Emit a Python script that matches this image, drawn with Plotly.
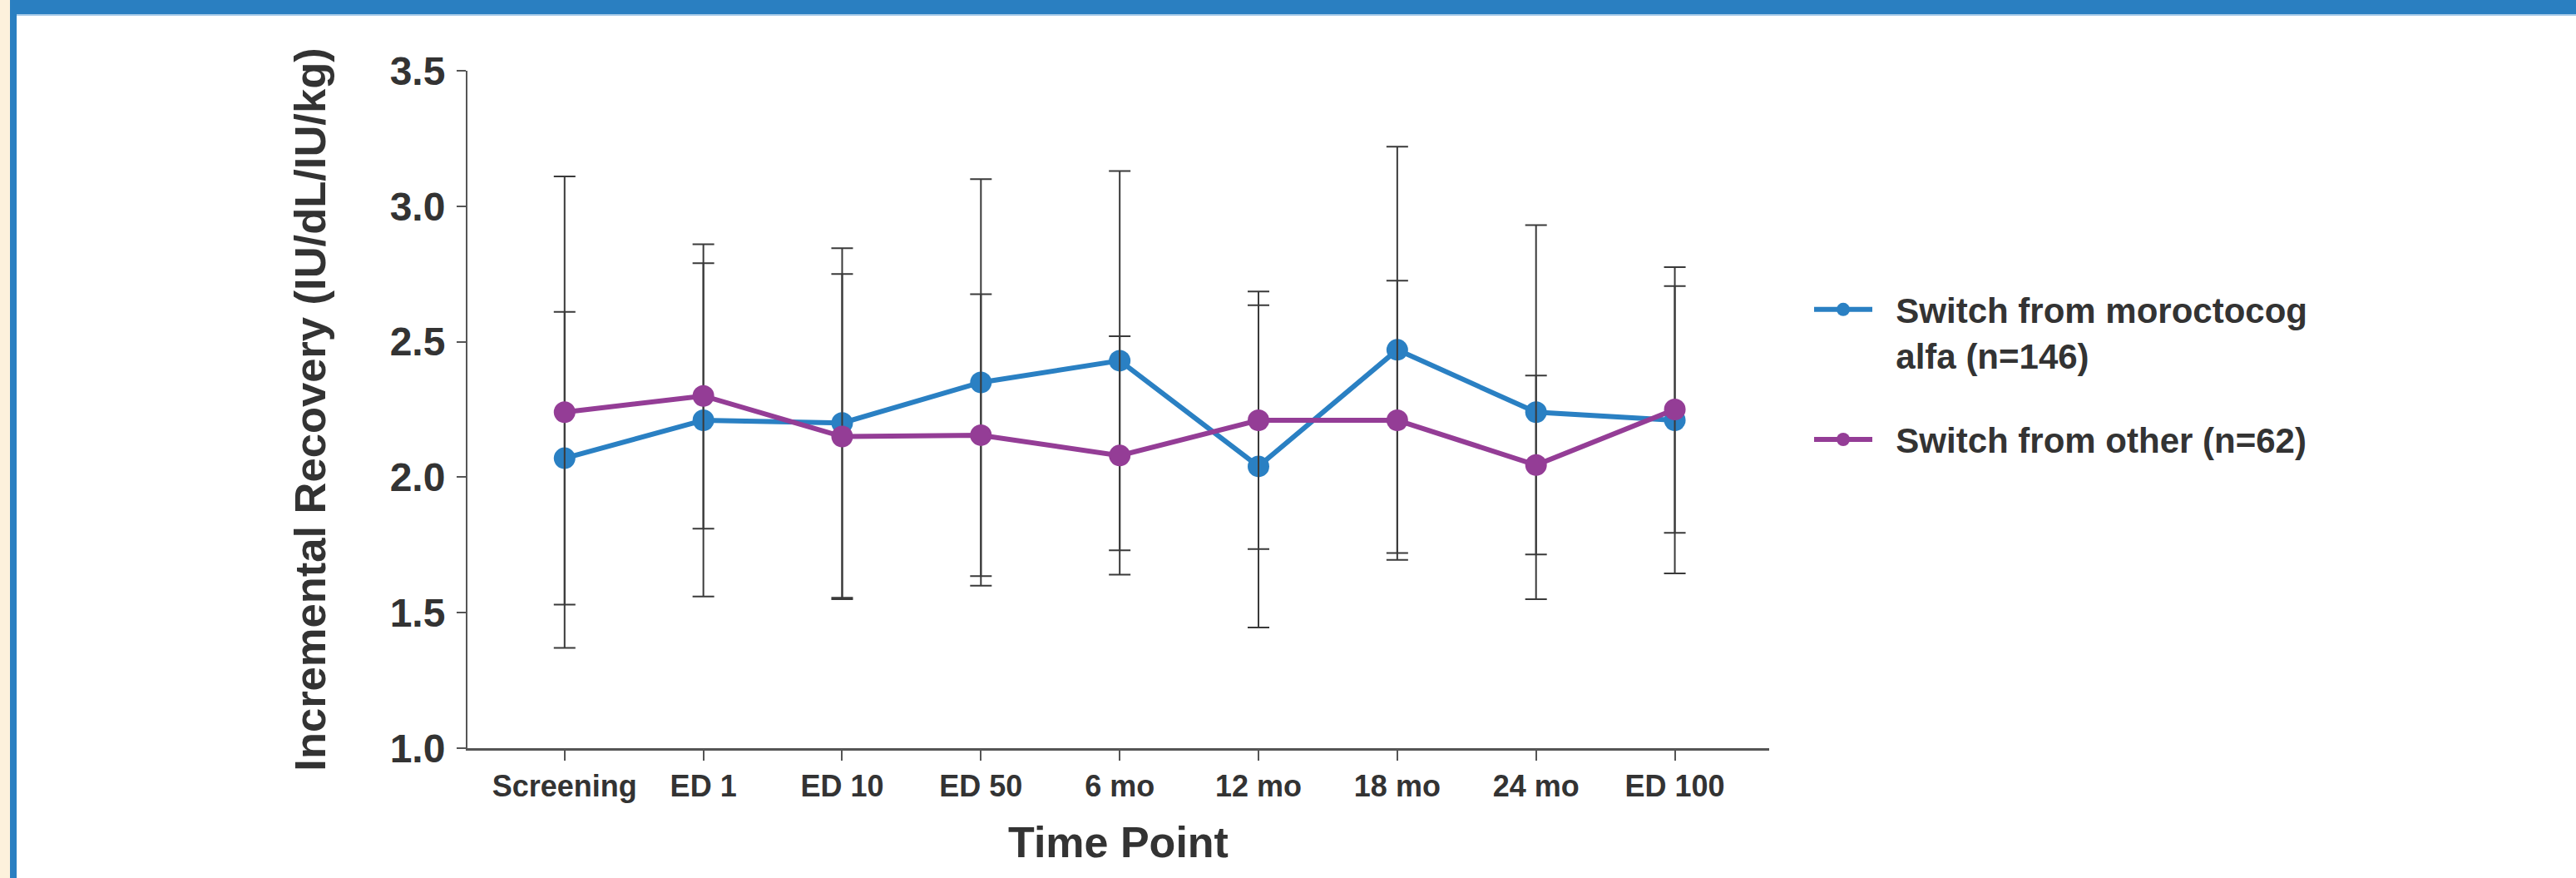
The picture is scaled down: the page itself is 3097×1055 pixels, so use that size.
import plotly.graph_objects as go

categories = ["Screening", "ED 1", "ED 10", "ED 50", "6 mo", "12 mo", "18 mo", "24 mo", "ED 100"]
moro_mean = [2.07, 2.21, 2.20, 2.35, 2.43, 2.04, 2.47, 2.24, 2.21]
moro_sd = [0.54, 0.65, 0.645, 0.75, 0.70, 0.595, 0.75, 0.69, 0.565]
other_mean = [2.24, 2.30, 2.15, 2.155, 2.08, 2.21, 2.21, 2.045, 2.25]
other_sd = [0.87, 0.49, 0.60, 0.52, 0.44, 0.475, 0.515, 0.33, 0.455]
y_ticks = [1.0, 1.5, 2.0, 2.5, 3.0, 3.5]

W, H = 3097, 1055
L, R, T, B = 562, 2127, 85, 899

def px(x):
    return (x - L) / (R - L)

def py(y):
    return (B - y) / (B - T)

BLUE = "#2a80c3"
PURPLE = "#943d96"
ERR = "#3a3a3a"
TXT = "#333333"
FONT = "Liberation Sans, Arial, sans-serif"
NB = "\u00a0\u00a0"

xs = list(range(len(categories)))

fig = go.Figure()
fig.add_trace(go.Scatter(
    x=xs, y=moro_mean, mode="lines+markers",
    name=NB + "Switch from moroctocog<br>" + NB + "alfa (n=146)",
    legendgroup="a",
    line=dict(color=BLUE, width=6),
    marker=dict(color=BLUE, size=26),
    error_y=dict(type="data", array=moro_sd, color=ERR, thickness=2, width=13),
))
fig.add_trace(go.Scatter(
    x=xs, y=other_mean, mode="lines+markers",
    name=NB + "Switch from other (n=62)",
    legendgroup="b",
    line=dict(color=PURPLE, width=6),
    marker=dict(color=PURPLE, size=26),
    error_y=dict(type="data", array=other_sd, color=ERR, thickness=2, width=13),
))

shapes = [
    dict(type="rect", xref="paper", yref="paper", x0=px(0), x1=px(12), y0=py(H), y1=py(0),
         fillcolor="#fdf1dc", line=dict(width=0), layer="below"),
    dict(type="rect", xref="paper", yref="paper", x0=px(12), x1=px(20), y0=py(H), y1=py(0),
         fillcolor="#2a7fc1", line=dict(width=0), layer="below"),
    dict(type="rect", xref="paper", yref="paper", x0=px(12), x1=px(W), y0=py(17), y1=py(0),
         fillcolor="#2a7fc1", line=dict(width=0), layer="below"),
    dict(type="rect", xref="paper", yref="paper", x0=px(20), x1=px(W), y0=py(19), y1=py(17),
         fillcolor="#a9cbe8", line=dict(width=0), layer="below"),
]

fig.update_layout(
    width=W, height=H,
    margin=dict(l=L, r=W - R, t=T, b=H - B, pad=0),
    paper_bgcolor="white", plot_bgcolor="white",
    showlegend=True,
    shapes=shapes,
    legend=dict(
        x=px(2176), y=py(338), xanchor="left", yanchor="top",
        font=dict(family=FONT, size=42, color=TXT, weight="bold"),
        valign="top", traceorder="grouped", tracegroupgap=44,
        itemwidth=70, bgcolor="rgba(0,0,0,0)",
    ),
    xaxis=dict(
        range=[-0.70, 8.68], tickmode="array", tickvals=xs, ticktext=categories,
        showline=True, linecolor="#555555", linewidth=3, showgrid=False, zeroline=False,
        ticks="outside", ticklen=12, tickwidth=2, tickcolor="#555555",
        tickfont=dict(family=FONT, size=36, color=TXT, weight="bold"),
        title=dict(text="Time Point", font=dict(family=FONT, size=52, color=TXT, weight="bold"),
                   standoff=30),
    ),
    yaxis=dict(
        range=[1.0, 3.5], tickmode="array", tickvals=y_ticks,
        ticktext=[f"{v:.1f}" for v in y_ticks],
        showline=True, linecolor="#555555", linewidth=2, showgrid=False, zeroline=False,
        ticks="outside", ticklen=11, tickwidth=2, tickcolor="#555555",
        ticklabelstandoff=4,
        tickfont=dict(family=FONT, size=48, color=TXT, weight="bold"),
        title=dict(text="Incremental Recovery (IU/dL/IU/kg)",
                   font=dict(family=FONT, size=52.5, color=TXT, weight="bold"), standoff=60),
    ),
)

fig.write_html("out.html", config={"displayModeBar": False},
               post_script="document.body.style.margin='0';")
